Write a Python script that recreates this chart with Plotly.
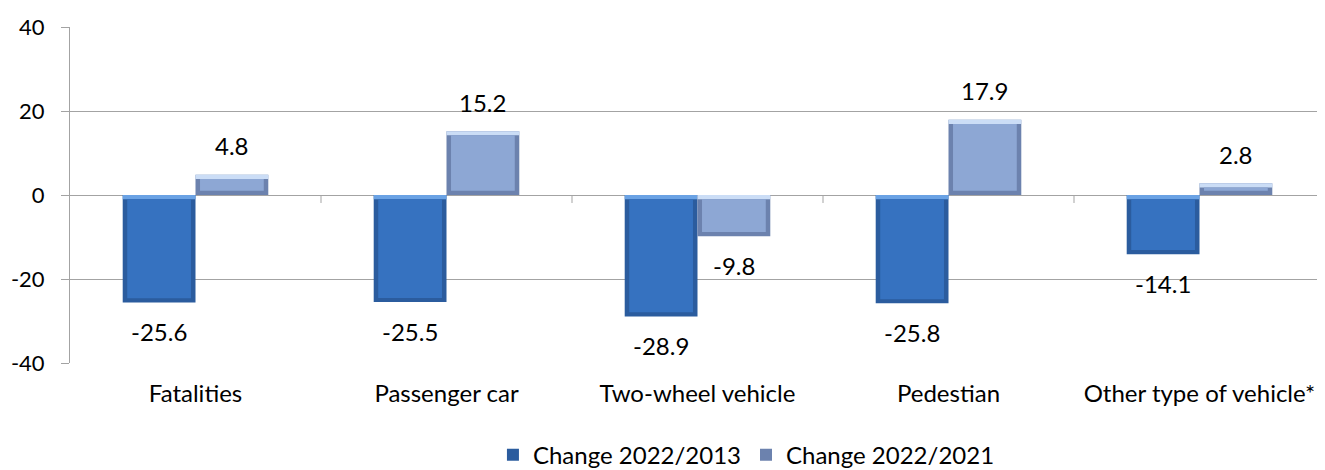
import numpy as np
import plotly.graph_objects as go

categories = ["Fatalities", "Passenger car", "Two-wheel vehicle", "Pedestian", "Other type of vehicle*"]
change_2013 = [-25.6, -25.5, -28.9, -25.8, -14.1]
change_2021 = [4.8, 15.2, -9.8, 17.9, 2.8]
series_names = ["Change 2022/2013", "Change 2022/2021"]
y_ticks = [-40, -20, 0, 20, 40]
y_tick_labels = ["-40", "-20", "0", "20", "40"]

FONT = "Lato"
FS = 24
GRID = "#A3A3A3"
BAR_W = 0.29
INS_X = 0.018
INS_Y = 1.0
TICK_LEN = 1.9  # length of the category-boundary ticks below zero (axis units)

styles = [
    dict(edge="#2B5C9E", face="#3672C0", hi="#6AA2E4", off=-BAR_W),
    dict(edge="#6C82AE", face="#8DA7D4", hi="#CBDDF6", off=0.0),
]

fig = go.Figure()
idx = list(range(len(categories)))
for vals, name, st in zip([change_2013, change_2021], series_names, styles):
    v = np.array(vals, dtype=float)
    s = np.sign(v)
    fig.add_trace(go.Bar(x=idx, y=v.tolist(), base=0, width=BAR_W, offset=st["off"],
                         marker=dict(color=st["edge"], line=dict(width=0)),
                         name=name, showlegend=True, legendgroup=name))
    top = np.maximum(v, 0)
    fig.add_trace(go.Bar(x=idx, y=[INS_Y] * len(v), base=(top - INS_Y).tolist(), width=BAR_W,
                         offset=st["off"], marker=dict(color=st["hi"], line=dict(width=0)),
                         showlegend=False, legendgroup=name, hoverinfo="skip"))
    fig.add_trace(go.Bar(x=idx, y=(v - 2 * s * INS_Y).tolist(), base=(s * INS_Y).tolist(),
                         width=BAR_W - 2 * INS_X, offset=st["off"] + INS_X,
                         marker=dict(color=st["face"], line=dict(width=0)),
                         showlegend=False, legendgroup=name, hoverinfo="skip"))
    for i, val in enumerate(vals):
        fig.add_annotation(x=idx[i] + st["off"] + BAR_W / 2, y=val, text=f"{val:.1f}",
                           showarrow=False, yshift=29 if val > 0 else -29,
                           xanchor="center", yanchor="middle",
                           font=dict(family=FONT, size=FS, color="#000000"))

# category-boundary tick marks hanging from the zero line
tx, ty = [], []
for i in idx[:-1]:
    tx += [i + 0.5, i + 0.5, None]
    ty += [0, -TICK_LEN, None]
fig.add_trace(go.Scatter(x=tx, y=ty, mode="lines", line=dict(color=GRID, width=1),
                         connectgaps=False, showlegend=False, hoverinfo="skip"))

fig.update_layout(
    width=1317, height=462,
    margin=dict(l=62, r=0, t=19, b=107, autoexpand=False),
    paper_bgcolor="white", plot_bgcolor="white",
    barmode="overlay",
    font=dict(family=FONT, size=FS, color="#000000"),
    xaxis=dict(type="linear", range=[-0.5, len(categories) - 0.5], automargin=False,
               tickvals=idx, ticktext=categories,
               showgrid=False, zeroline=False, showline=False, ticks="",
               ticklabelstandoff=14, tickfont=dict(family=FONT, size=FS)),
    yaxis=dict(range=[-40, 40], tickvals=y_ticks, ticktext=y_tick_labels, automargin=False,
               showgrid=True, gridcolor=GRID, gridwidth=1,
               zeroline=True, zerolinecolor=GRID, zerolinewidth=1,
               showline=True, linecolor=GRID, linewidth=1,
               ticks="outside", ticklen=8, tickcolor=GRID, ticklabelstandoff=12,
               tickfont=dict(family=FONT, size=22)),
    legend=dict(orientation="h", x=0.539, xanchor="center", y=-0.274, yanchor="middle",
                font=dict(family=FONT, size=FS), itemwidth=30, traceorder="normal",
                bgcolor="rgba(0,0,0,0)"),
    showlegend=True,
)

fig.write_html("out.html")
